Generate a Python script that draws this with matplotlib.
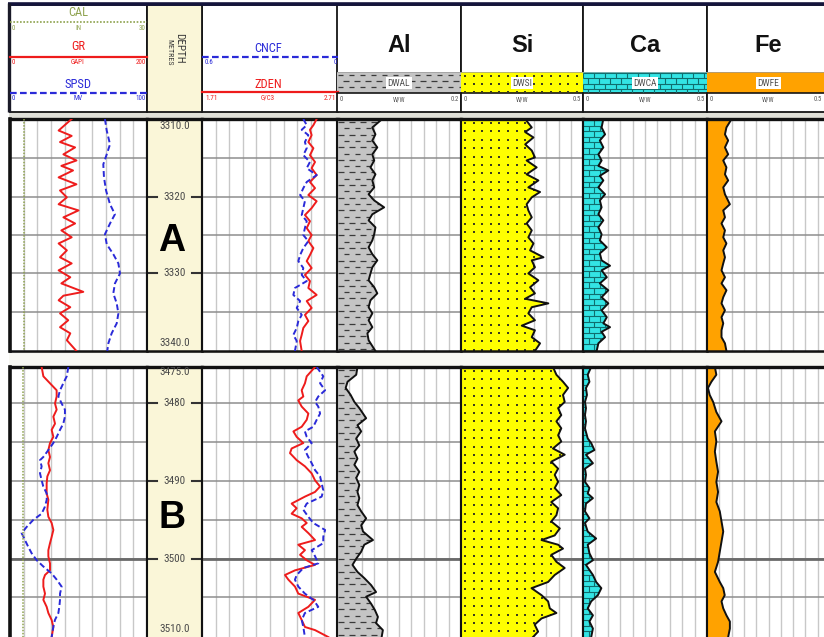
import numpy as np
import matplotlib
matplotlib.use("Agg")
import matplotlib.pyplot as plt
from matplotlib.collections import LineCollection
from matplotlib.patches import Rectangle
from matplotlib import font_manager as fm

# ---------------- DATA : section A (3310 - 3340 m) ----------------
a_gr_depth = [3309.9, 3311.4, 3312.1, 3312.9, 3313.6, 3314.5, 3315.3, 3316.0, 3316.6, 3317.5,
              3318.4, 3319.2, 3320.1, 3321.0, 3321.8, 3322.7, 3323.5, 3324.4, 3325.3, 3326.1,
              3327.0, 3327.9, 3328.7, 3329.6, 3330.5, 3331.3, 3332.4, 3332.9, 3333.5, 3334.4,
              3335.2, 3336.1, 3337.0, 3337.8, 3338.7, 3340.1]
a_gr = [90, 71, 90, 73, 95, 78, 97, 75, 92, 71, 97, 73, 83, 71, 100, 78, 95, 75, 90, 71,
        83, 73, 90, 71, 88, 75, 107, 78, 71, 88, 73, 85, 73, 88, 83, 97]

a_sp_depth = [3309.9, 3311.4, 3313.2, 3314.5, 3315.8, 3317.5, 3319.2, 3321.0, 3322.3, 3323.5,
              3324.9, 3326.2, 3327.5, 3328.7, 3330.0, 3331.3, 3332.6, 3333.9, 3335.2, 3336.5,
              3337.8, 3339.1, 3340.1]
a_sp = [69.3, 70.6, 73.0, 70.6, 68.1, 68.6, 70.1, 73.0, 76.6, 73.0, 69.3, 70.6, 75.4, 79.1,
        80.3, 76.6, 75.4, 77.9, 79.1, 77.9, 74.2, 71.8, 71.0]

a_cal_depth = [3309.9, 3320.0, 3330.0, 3340.1]
a_cal = [3.0, 3.0, 3.0, 3.0]

a_nd_depth = [3309.9, 3310.7, 3311.3, 3312.0, 3312.9, 3313.7, 3314.6, 3315.5, 3316.3, 3317.2,
              3318.1, 3318.9, 3319.8, 3320.6, 3321.5, 3322.4, 3323.2, 3324.1, 3325.0, 3325.8,
              3326.7, 3327.6, 3328.4, 3329.3, 3330.2, 3331.0, 3331.9, 3332.8, 3333.6, 3334.5,
              3335.4, 3336.2, 3337.1, 3338.0, 3338.8, 3340.1]
a_zden = [2.553, 2.529, 2.504, 2.516, 2.492, 2.529, 2.504, 2.541, 2.516, 2.553,
          2.504, 2.541, 2.492, 2.553, 2.516, 2.467, 2.504, 2.480, 2.516, 2.492,
          2.529, 2.504, 2.480, 2.516, 2.467, 2.504, 2.492, 2.553, 2.480, 2.516,
          2.467, 2.492, 2.455, 2.443, 2.431, 2.443]
a_cncf = [0.153, 0.138, 0.160, 0.131, 0.146, 0.138, 0.153, 0.124, 0.138, 0.094,
          0.138, 0.153, 0.167, 0.146, 0.153, 0.160, 0.138, 0.146, 0.153, 0.131,
          0.153, 0.167, 0.175, 0.153, 0.160, 0.138, 0.190, 0.197, 0.167, 0.182,
          0.160, 0.175, 0.182, 0.197, 0.182, 0.190]

a_al_depth = [3309.9, 3311.0, 3311.9, 3312.7, 3313.6, 3314.5, 3315.3, 3316.2, 3317.1, 3317.9,
              3318.8, 3319.7, 3320.5, 3321.4, 3322.3, 3323.1, 3324.0, 3324.9, 3325.7, 3326.6,
              3327.5, 3328.3, 3329.2, 3330.0, 3330.9, 3331.8, 3332.6, 3333.5, 3334.4, 3335.2,
              3336.1, 3337.0, 3337.8, 3338.7, 3340.1]
a_al = [0.073, 0.057, 0.062, 0.057, 0.065, 0.057, 0.060, 0.054, 0.062, 0.057,
        0.060, 0.051, 0.060, 0.076, 0.057, 0.051, 0.062, 0.060, 0.057, 0.051,
        0.057, 0.065, 0.057, 0.054, 0.051, 0.060, 0.065, 0.054, 0.051, 0.057,
        0.051, 0.057, 0.049, 0.051, 0.062]

a_si_depth = [3309.9, 3311.0, 3311.6, 3312.3, 3313.2, 3314.0, 3314.9, 3315.3, 3316.2, 3317.1,
              3317.9, 3318.8, 3319.4, 3320.1, 3321.0, 3321.8, 3322.7, 3323.5, 3324.4, 3325.3,
              3326.1, 3327.0, 3327.9, 3328.3, 3329.2, 3330.0, 3330.9, 3331.8, 3332.6, 3333.3,
              3333.9, 3334.4, 3335.2, 3336.1, 3336.8, 3337.4, 3338.3, 3339.1, 3340.1]
a_si = [0.263, 0.290, 0.263, 0.297, 0.263, 0.290, 0.303, 0.269, 0.310, 0.269,
        0.317, 0.276, 0.324, 0.290, 0.269, 0.276, 0.290, 0.269, 0.290, 0.276,
        0.297, 0.283, 0.338, 0.290, 0.303, 0.276, 0.317, 0.283, 0.303, 0.263,
        0.358, 0.290, 0.276, 0.303, 0.249, 0.303, 0.290, 0.324, 0.303]

a_ca_depth = [3309.9, 3311.0, 3311.9, 3312.7, 3313.6, 3314.5, 3315.3, 3316.0, 3316.6, 3317.3,
              3317.9, 3318.8, 3319.7, 3320.5, 3321.4, 3322.3, 3323.1, 3324.0, 3324.9, 3325.7,
              3326.6, 3327.4, 3328.3, 3329.0, 3329.6, 3330.5, 3331.3, 3332.2, 3333.1, 3333.9,
              3334.8, 3335.7, 3336.5, 3337.0, 3337.6, 3338.3, 3339.1, 3340.1]
a_ca = [0.082, 0.075, 0.089, 0.068, 0.082, 0.062, 0.075, 0.062, 0.102, 0.068,
        0.082, 0.062, 0.089, 0.068, 0.075, 0.062, 0.082, 0.062, 0.075, 0.068,
        0.096, 0.068, 0.075, 0.109, 0.075, 0.096, 0.068, 0.102, 0.075, 0.102,
        0.075, 0.096, 0.082, 0.109, 0.075, 0.089, 0.062, 0.055]

a_fe_depth = [3309.9, 3311.0, 3311.9, 3312.7, 3313.6, 3314.5, 3315.3, 3316.2, 3317.1, 3317.9,
              3318.8, 3319.7, 3321.0, 3321.8, 3322.7, 3323.5, 3324.4, 3325.3, 3326.1, 3327.0,
              3327.9, 3328.7, 3329.6, 3330.5, 3331.3, 3332.2, 3333.1, 3333.9, 3334.8, 3335.7,
              3336.5, 3337.4, 3338.3, 3339.1, 3340.1]
a_fe = [0.100, 0.079, 0.073, 0.086, 0.073, 0.086, 0.066, 0.079, 0.073, 0.086,
        0.066, 0.073, 0.093, 0.066, 0.073, 0.059, 0.073, 0.066, 0.079, 0.066,
        0.073, 0.066, 0.059, 0.073, 0.059, 0.079, 0.066, 0.059, 0.073, 0.059,
        0.066, 0.059, 0.059, 0.073, 0.079]

# ---------------- DATA : section B (3475 - 3510 m) ----------------
b_gr_depth = [3475.3, 3476.5, 3477.4, 3478.3, 3479.1, 3480.0, 3480.8, 3481.7, 3482.6, 3483.4,
              3484.3, 3485.1, 3486.0, 3486.9, 3487.7, 3488.6, 3489.4, 3490.3, 3491.6, 3492.4,
              3493.7, 3494.6, 3495.4, 3496.3, 3497.2, 3498.0, 3498.9, 3499.7, 3500.6, 3501.5,
              3502.1, 3502.7, 3503.6, 3504.5, 3505.3, 3506.2, 3507.0, 3507.9, 3508.8, 3510.1]
b_gr = [46.2, 48.7, 58.4, 68.1, 68.1, 65.7, 68.1, 63.3, 65.7, 60.8,
        63.3, 58.4, 56.0, 58.4, 56.0, 58.4, 54.5, 53.5, 53.5, 56.0,
        54.5, 56.0, 60.8, 63.3, 60.8, 58.4, 56.0, 56.0, 58.4, 58.4,
        51.1, 48.7, 48.7, 51.1, 48.7, 53.5, 56.0, 60.8, 63.3, 60.8]

b_sp_depth = [3475.3, 3476.5, 3477.4, 3478.3, 3479.1, 3480.0, 3480.8, 3481.7, 3482.6, 3483.4,
              3484.3, 3485.1, 3486.0, 3486.9, 3487.3, 3488.1, 3489.0, 3489.9, 3490.7, 3491.6,
              3492.4, 3493.3, 3494.2, 3495.0, 3495.9, 3496.7, 3497.6, 3498.5, 3499.3, 3500.2,
              3501.0, 3501.9, 3502.7, 3503.6, 3504.5, 3505.3, 3506.2, 3507.0, 3507.9, 3508.8,
              3510.1]
b_sp = [42.6, 41.4, 38.9, 36.5, 35.3, 37.7, 40.1, 40.1, 38.9, 36.5,
        34.1, 31.6, 28.0, 24.3, 21.9, 23.1, 21.9, 23.1, 24.3, 26.8,
        26.8, 25.5, 23.1, 17.0, 12.2, 8.5, 10.9, 13.4, 15.8, 19.5,
        24.3, 30.4, 34.1, 37.7, 36.5, 36.5, 36.0, 35.3, 32.8, 31.6, 30.4]

b_cal_depth = [3475.3, 3485.0, 3495.0, 3510.1]
b_cal = [2.9, 2.9, 2.9, 2.9]

b_zden_depth = [3475.3, 3476.5, 3477.4, 3478.3, 3479.1, 3479.6, 3480.4, 3481.3, 3482.1, 3483.0,
                3483.6, 3484.3, 3485.1, 3485.8, 3486.4, 3487.3, 3488.1, 3489.0, 3489.9, 3490.7,
                3491.4, 3492.0, 3492.9, 3493.5, 3494.2, 3494.8, 3495.4, 3495.9, 3496.7, 3497.6,
                3498.2, 3498.9, 3499.5, 3500.2, 3500.8, 3501.5, 3502.1, 3502.7, 3503.6, 3504.5,
                3505.3, 3506.2, 3507.0, 3507.9, 3508.8, 3509.2, 3510.1]
b_zden = [2.541, 2.480, 2.467, 2.443, 2.455, 2.418, 2.443, 2.492, 2.480, 2.443,
          2.382, 2.406, 2.455, 2.369, 2.357, 2.406, 2.467, 2.516, 2.541, 2.578,
          2.541, 2.467, 2.369, 2.406, 2.369, 2.443, 2.480, 2.443, 2.492, 2.541,
          2.418, 2.467, 2.431, 2.480, 2.541, 2.394, 2.320, 2.345, 2.394, 2.418,
          2.541, 2.492, 2.418, 2.443, 2.467, 2.541, 2.639]

b_cncf_depth = [3475.3, 3476.5, 3477.4, 3478.3, 3479.1, 3479.8, 3480.4, 3481.3, 3482.1, 3483.0,
                3483.6, 3484.3, 3485.1, 3486.0, 3486.9, 3487.7, 3488.6, 3489.4, 3490.3, 3491.2,
                3492.0, 3492.9, 3493.7, 3494.6, 3495.4, 3496.3, 3497.2, 3498.0, 3498.9, 3499.7,
                3500.6, 3501.2, 3502.1, 3502.7, 3503.6, 3504.5, 3505.3, 3506.2, 3507.0, 3507.9,
                3508.8, 3510.1]
b_cncf = [0.094, 0.065, 0.079, 0.057, 0.087, 0.101, 0.087, 0.079, 0.094, 0.109,
          0.146, 0.138, 0.116, 0.146, 0.131, 0.116, 0.101, 0.079, 0.072, 0.065,
          0.072, 0.138, 0.153, 0.131, 0.109, 0.057, 0.065, 0.065, 0.116, 0.101,
          0.087, 0.153, 0.182, 0.190, 0.175, 0.146, 0.109, 0.087, 0.146, 0.160,
          0.153, 0.146]

b_al_depth = [3475.3, 3476.3, 3477.2, 3478.0, 3478.9, 3479.8, 3480.6, 3481.9, 3482.8, 3483.6,
              3484.5, 3485.4, 3486.2, 3487.1, 3487.9, 3488.8, 3489.6, 3490.5, 3491.4, 3492.2,
              3493.1, 3493.9, 3494.8, 3495.7, 3496.5, 3497.6, 3498.2, 3499.1, 3500.0, 3500.8,
              3501.7, 3502.5, 3503.4, 3504.3, 3504.9, 3505.8, 3506.6, 3507.5, 3508.3, 3509.2,
              3510.1]
b_al = [0.033, 0.031, 0.017, 0.014, 0.022, 0.028, 0.036, 0.047, 0.033, 0.039,
        0.031, 0.036, 0.028, 0.033, 0.028, 0.036, 0.031, 0.036, 0.033, 0.036,
        0.033, 0.039, 0.047, 0.039, 0.042, 0.058, 0.044, 0.039, 0.031, 0.025,
        0.033, 0.044, 0.055, 0.063, 0.047, 0.055, 0.061, 0.066, 0.063, 0.074, 0.072]

b_si_depth = [3475.3, 3476.3, 3477.2, 3478.0, 3478.9, 3479.8, 3480.6, 3481.5, 3482.3, 3483.2,
              3484.1, 3484.9, 3485.8, 3486.6, 3487.5, 3488.4, 3489.2, 3490.1, 3490.9, 3491.8,
              3492.7, 3493.5, 3494.4, 3495.2, 3496.1, 3497.0, 3497.6, 3498.2, 3498.7, 3499.5,
              3500.4, 3501.2, 3502.1, 3503.0, 3503.8, 3504.7, 3505.5, 3506.4, 3507.0, 3507.7,
              3508.5, 3509.4, 3510.1]
b_si = [0.377, 0.391, 0.418, 0.439, 0.418, 0.425, 0.398, 0.411, 0.391, 0.411,
        0.398, 0.411, 0.377, 0.425, 0.370, 0.398, 0.384, 0.398, 0.384, 0.411,
        0.370, 0.398, 0.391, 0.370, 0.405, 0.384, 0.330, 0.398, 0.418, 0.370,
        0.391, 0.425, 0.384, 0.357, 0.289, 0.330, 0.357, 0.364, 0.391, 0.330,
        0.302, 0.316, 0.295]

b_ca_depth = [3475.3, 3476.3, 3477.2, 3478.0, 3478.9, 3479.8, 3480.6, 3481.5, 3482.3, 3483.2,
              3484.5, 3485.1, 3486.0, 3486.6, 3487.7, 3488.4, 3489.2, 3490.1, 3490.9, 3491.6,
              3492.2, 3492.9, 3493.9, 3494.8, 3495.4, 3496.5, 3497.4, 3498.2, 3499.3, 3500.2,
              3500.8, 3502.1, 3503.0, 3503.8, 3504.7, 3505.5, 3506.4, 3507.3, 3508.1, 3509.0,
              3510.1]
b_ca = [0.033, 0.019, 0.026, 0.012, 0.016, 0.008, 0.012, 0.008, 0.012, 0.008,
        0.019, 0.033, 0.046, 0.012, 0.040, 0.008, 0.012, 0.008, 0.026, 0.019,
        0.040, 0.012, 0.008, 0.026, 0.008, 0.019, 0.053, 0.019, 0.026, 0.040,
        0.012, 0.040, 0.053, 0.074, 0.060, 0.033, 0.019, 0.040, 0.026, 0.040, 0.033]

b_fe_depth = [3475.3, 3476.3, 3477.2, 3478.0, 3478.9, 3479.8, 3481.1, 3482.3, 3483.6, 3484.9,
              3486.2, 3487.5, 3488.8, 3490.1, 3491.4, 3492.7, 3493.9, 3495.2, 3496.5, 3497.8,
              3499.1, 3500.4, 3501.7, 3503.0, 3503.8, 3504.7, 3505.5, 3506.4, 3507.3, 3508.1,
              3509.0, 3510.1]
b_fe = [0.032, 0.038, 0.018, 0.004, 0.011, 0.025, 0.038, 0.059, 0.032, 0.038,
        0.032, 0.038, 0.045, 0.038, 0.045, 0.038, 0.052, 0.059, 0.066, 0.059,
        0.052, 0.045, 0.032, 0.052, 0.066, 0.072, 0.059, 0.066, 0.079, 0.093,
        0.093, 0.086]

# ---------------- labels / scales ----------------
mineral_titles = ['Al', 'Si', 'Ca', 'Fe']
mineral_codes = ['DWAL', 'DWSI', 'DWCA', 'DWFE']
mineral_max = [0.2, 0.5, 0.5, 0.5]
mineral_max_labels = ['0.2', '0.5', '0.5', '0.5']
a_depth_labels = ['3310.0', '3320', '3330', '3340.0']
b_depth_labels = ['3475.0', '3480', '3490', '3500', '3510.0']

# ---------------- fonts ----------------
_names = {f.name for f in fm.fontManager.ttflist}
def pick(cands):
    for c in cands:
        if c in _names:
            return c
    return 'DejaVu Sans'
NARROW = pick(['Liberation Sans Narrow', 'Roboto Condensed', 'Open Sans Condensed', 'Liberation Sans'])
SANS = pick(['Liberation Sans', 'Arial', 'DejaVu Sans'])
plt.rcParams['font.family'] = [SANS, 'DejaVu Sans']

W, H = 824, 637
fig = plt.figure(figsize=(W / 100, H / 100), dpi=100)
fig.patch.set_facecolor('white')


def px_axes(x0, x1, y0, y1, zorder=1):
    return fig.add_axes([x0 / W, 1 - y1 / H, (x1 - x0) / W, (y1 - y0) / H], zorder=zorder)


TR = {'t1': (10, 147), 'dep': (147, 202), 't2': (202, 338),
      'al': (337, 461), 'si': (461, 583), 'ca': (583, 707), 'fe': (707, 830)}
MIN = [('al', '#c4c4c4', 'dash'), ('si', '#ffff00', 'dots'),
       ('ca', '#33e4e4', 'brick'), ('fe', '#ffa200', None)]
CREAM = '#faf6d8'


def pattern(ax, kind, px0, px1, py0, py1, fx, fy, clip):
    art = None
    if kind == 'dash':
        segs = []
        for i, yy in enumerate(np.arange(py0 + 3, py1, 6.3)):
            off = 0 if i % 2 == 0 else 5.5
            for xx in np.arange(px0 + 1 + off, px1, 11):
                segs.append([(fx(xx), fy(yy)), (fx(xx + 5.5), fy(yy))])
        art = LineCollection(segs, colors='#3a3a3a', linewidths=0.9, zorder=2.5)
        ax.add_collection(art, autolim=False)
    elif kind == 'dots':
        gx, gy = np.meshgrid(np.arange(px0 + 4, px1, 8.6), np.arange(py0 + 4, py1, 8.4))
        art = ax.scatter(fx(gx.ravel()), fy(gy.ravel()), s=2.2, c='#3c3c1e',
                         marker='s', linewidths=0, zorder=2.5)
    elif kind == 'brick':
        segs = []
        for i, yy in enumerate(np.arange(py0 + 1, py1 + 6, 5.6)):
            segs.append([(fx(px0), fy(yy)), (fx(px1), fy(yy))])
            off = 0 if i % 2 == 0 else 5.5
            for xx in np.arange(px0 + off, px1, 11):
                segs.append([(fx(xx), fy(yy)), (fx(xx), fy(yy + 5.6))])
        art = LineCollection(segs, colors='#106e6e', linewidths=0.8, zorder=2.5)
        ax.add_collection(art, autolim=False)
    if art is not None:
        if isinstance(clip, tuple):
            art.set_clip_path(*clip)
        else:
            art.set_clip_path(clip)


# ---------------- background / header (pixel coordinates) ----------------
hx = px_axes(0, W, 0, H, zorder=0)
hx.set_xlim(0, W)
hx.set_ylim(H, 0)
hx.axis('off')

hx.add_patch(Rectangle((9, 111), W, 7.5, facecolor='#e0e0d8', edgecolor='none'))
hx.add_patch(Rectangle((9, 351), W, 16, facecolor='#f8f8f3', edgecolor='none'))
hx.plot([9, W], [352, 352], color='#d0d0c8', lw=0.8)
hx.plot([9, W], [366, 366], color='#d0d0c8', lw=0.8)

for k in ['t1', 't2', 'al', 'si', 'ca', 'fe']:
    x0, x1 = TR[k]
    hx.add_patch(Rectangle((x0, 5), x1 - x0, 107, facecolor='white', edgecolor='#151515', lw=1.3))
hx.add_patch(Rectangle((147, 5), 55, 107, facecolor=CREAM, edgecolor='#151515', lw=1.3))
hx.plot([8, W], [4, 4], color='#14143c', lw=2.6, solid_capstyle='butt')
hx.plot([8.8, 8.8], [3, 112], color='#1a1a28', lw=2.4, solid_capstyle='butt')

# track 1 header
c_cal, c_gr, c_sp = '#8ea24e', '#ee1c1c', '#2a2ad8'
hx.text(78, 13, 'CAL', color=c_cal, fontsize=9, family=NARROW, ha='center', va='center')
hx.plot([10, 147], [22, 22], color=c_cal, lw=1.2, ls=(0, (1, 1)))
hx.text(78, 47, 'GR', color=c_gr, fontsize=9, family=NARROW, ha='center', va='center')
hx.plot([10, 147], [57, 57], color=c_gr, lw=1.6)
hx.text(78, 84, 'SPSD', color=c_sp, fontsize=9, family=NARROW, ha='center', va='center')
hx.plot([10, 147], [93, 93], color=c_sp, lw=1.6, ls=(0, (3, 1.5)))
for yy, col, labs in [(28, c_cal, ('0', 'IN', '30')), (62.5, c_gr, ('0', 'GAPI', '200')),
                      (98.5, c_sp, ('0', 'MV', '100'))]:
    hx.text(12, yy, labs[0], color=col, fontsize=5, family=NARROW, ha='left', va='center')
    hx.text(78, yy, labs[1], color=col, fontsize=5, family=NARROW, ha='center', va='center')
    hx.text(146, yy, labs[2], color=col, fontsize=5, family=NARROW, ha='right', va='center')

# depth header
hx.text(179, 48, 'DEPTH', rotation=-90, fontsize=8, family=NARROW, color='#3a3a3a',
        ha='center', va='center')
hx.text(169.5, 52, 'METRES', rotation=-90, fontsize=5.8, family=NARROW, color='#3a3a3a',
        ha='center', va='center')

# track 2 header
hx.text(268, 49, 'CNCF', color=c_sp, fontsize=9, family=NARROW, ha='center', va='center')
hx.plot([202, 338], [57, 57], color=c_sp, lw=1.6, ls=(0, (3, 1.5)))
hx.text(205, 62.5, '0.6', color=c_sp, fontsize=5, family=NARROW, ha='left', va='center')
hx.text(337, 62.5, '0', color=c_sp, fontsize=5, family=NARROW, ha='right', va='center')
hx.text(268, 84, 'ZDEN', color=c_gr, fontsize=9, family=NARROW, ha='center', va='center')
hx.plot([202, 338], [92, 92], color=c_gr, lw=1.6)
for xx, lab, ha in [(205, '1.71', 'left'), (268, 'G/C3', 'center'), (336, '2.71', 'right')]:
    hx.text(xx, 98.5, lab, color=c_gr, fontsize=5, family=NARROW, ha=ha, va='center')

# mineral headers
for (k, fc, kind), title, code, mlab in zip(MIN, mineral_titles, mineral_codes, mineral_max_labels):
    x0, x1 = TR[k]
    cx = (x0 + x1) / 2
    hx.text(cx, 45, title, fontsize=17, fontweight='bold', color='#111111',
            ha='center', va='center', family=SANS)
    band = Rectangle((x0, 71.5), x1 - x0, 21.5, facecolor=fc, edgecolor='none')
    hx.add_patch(band)
    if kind:
        pattern(hx, kind, x0, x1, 71.5, 93, lambda p: p, lambda p: p, band)
    hx.plot([x0, x1], [93, 93], color='#151515', lw=1.2)
    hx.plot([x0, x1], [71.5, 71.5], color='#9a9a9a', lw=0.5)
    hx.text(cx, 83, code, fontsize=6.8, family=NARROW, color='#505050', ha='center', va='center',
            bbox=dict(boxstyle='square,pad=0.15', fc='white', ec='none'))
    hx.text(x0 + 3, 99.5, '0', fontsize=4.8, family=NARROW, color='#555555', ha='left', va='center')
    hx.text(cx, 99.5, 'W/W', fontsize=4.8, family=NARROW, color='#555555', ha='center', va='center')
    hx.text(min(x1 - 2, W - 2), 99.5, mlab, fontsize=4.8, family=NARROW, color='#555555',
            ha='right', va='center')

# ---------------- sections ----------------
sections = [
    dict(y0=119, y1=351, top=3309.9, bot=3340.1, grid=[3315, 3320, 3325, 3330, 3335], major=[],
         bottom=True, gr=(a_gr_depth, a_gr), sp=(a_sp_depth, a_sp), cal=(a_cal_depth, a_cal),
         zden=(a_nd_depth, a_zden), cncf=(a_nd_depth, a_cncf),
         al=(a_al_depth, a_al), si=(a_si_depth, a_si), ca=(a_ca_depth, a_ca), fe=(a_fe_depth, a_fe),
         labels=list(zip([3310.75, 3320, 3330, 3339.1], a_depth_labels, [False, True, True, False])),
         letter='A', letter_y=241),
    dict(y0=367, y1=637, top=3475.3, bot=3510.09, grid=[3480, 3485, 3490, 3495, 3500, 3505],
         major=[3500], bottom=False,
         gr=(b_gr_depth, b_gr), sp=(b_sp_depth, b_sp), cal=(b_cal_depth, b_cal),
         zden=(b_zden_depth, b_zden), cncf=(b_cncf_depth, b_cncf),
         al=(b_al_depth, b_al), si=(b_si_depth, b_si), ca=(b_ca_depth, b_ca), fe=(b_fe_depth, b_fe),
         labels=list(zip([3475.9, 3480, 3490, 3500, 3509.0], b_depth_labels,
                         [False, True, True, True, False])),
         letter='B', letter_y=518),
]


def set_spines(ax, S, left_lw=1.5):
    for s in ['left', 'right', 'top', 'bottom']:
        ax.spines[s].set_color('#111111')
    ax.spines['left'].set_linewidth(left_lw)
    ax.spines['right'].set_linewidth(1.5)
    ax.spines['top'].set_linewidth(2.4)
    if S['bottom']:
        ax.spines['bottom'].set_linewidth(1.8)
    else:
        ax.spines['bottom'].set_visible(False)


def style_track(ax, lo, hi, S, left_lw=1.5):
    ax.set_xlim(lo, hi)
    ax.set_ylim(S['bot'], S['top'])
    ax.set_xticks(np.linspace(lo, hi, 11))
    ax.set_yticks(S['grid'])
    ax.tick_params(length=0, labelbottom=False, labelleft=False)
    ax.grid(axis='x', color='#c8c8c8', lw=1.0)
    ax.grid(axis='y', color='#8e8e8e', lw=1.1)
    ax.set_axisbelow(True)
    for m in S['major']:
        ax.axhline(m, color='#6a6a6a', lw=2.0, zorder=1)
    set_spines(ax, S, left_lw)


def overlay(ax, lo, hi, S):
    tw = ax.twiny()
    tw.set_xlim(lo, hi)
    tw.set_ylim(S['bot'], S['top'])
    tw.set_xticks([])
    tw.tick_params(length=0, labeltop=False, labelbottom=False)
    for sp in tw.spines.values():
        sp.set_visible(False)
    return tw


for S in sections:
    Y0, Y1, top, bot = S['y0'], S['y1'], S['top'], S['bot']

    def fy(p, Y0=Y0, Y1=Y1, top=top, bot=bot):
        return top + (p - Y0) / (Y1 - Y0) * (bot - top)

    # track 1 : GR / SPSD / CAL
    ax = px_axes(*TR['t1'], Y0, Y1)
    style_track(ax, 0, 200, S, left_lw=2.6)
    ax.plot(S['gr'][1], S['gr'][0], color=c_gr, lw=1.4, zorder=3)
    tw = overlay(ax, 0, 100, S)
    tw.plot(S['sp'][1], S['sp'][0], color=c_sp, lw=1.4, ls=(0, (3, 1.6)))
    tw2 = overlay(ax, 0, 30, S)
    tw2.plot(S['cal'][1], S['cal'][0], color=c_cal, lw=1.1, ls=(0, (1, 1)))

    # depth track
    ad = px_axes(*TR['dep'], Y0, Y1)
    ad.set_facecolor(CREAM)
    ad.set_xlim(0, 1)
    ad.set_ylim(bot, top)
    ad.set_xticks([])
    ad.set_yticks([])
    set_spines(ad, S)
    for d, lab, ticks in S['labels']:
        ad.text(0.5, d, lab, ha='center', va='center', fontsize=8, family=NARROW, color='#4a4a4a',
                clip_on=True)
        if ticks:
            ad.plot([0.04, 0.19], [d, d], color='#333333', lw=1.5)
            ad.plot([0.81, 0.96], [d, d], color='#333333', lw=1.5)

    # track 2 : ZDEN / CNCF
    ax = px_axes(*TR['t2'], Y0, Y1)
    style_track(ax, 1.71, 2.71, S)
    ax.plot(S['zden'][1], S['zden'][0], color=c_gr, lw=1.4, zorder=3)
    tw = overlay(ax, 0.6, 0.0, S)
    tw.plot(S['cncf'][1], S['cncf'][0], color=c_sp, lw=1.4, ls=(0, (3, 1.6)))

    # mineral tracks
    for (k, fc, kind), hi in zip(MIN, mineral_max):
        X0, X1 = TR[k]
        ax = px_axes(X0, X1, Y0, Y1)
        style_track(ax, 0, hi, S)
        d, v = S[k]
        poly = ax.fill_betweenx(d, 0, v, facecolor=fc, edgecolor='none', zorder=2)
        if kind:
            def fx(p, X0=X0, X1=X1, hi=hi):
                return (p - X0) / (X1 - X0) * hi
            vmax_px = X0 + max(v) / hi * (X1 - X0) + 6
            pattern(ax, kind, X0, vmax_px, Y0, Y1, fx, fy, (poly.get_paths()[0], ax.transData))
        ax.plot(v, d, color='#111111', lw=1.4, zorder=3)

    fig.text(172 / W, 1 - S['letter_y'] / H, S['letter'], fontsize=27, fontweight='bold',
             family=SANS, ha='center', va='center', color='#000000', zorder=20)

fig.savefig('out.png', dpi=100, facecolor=fig.get_facecolor())
